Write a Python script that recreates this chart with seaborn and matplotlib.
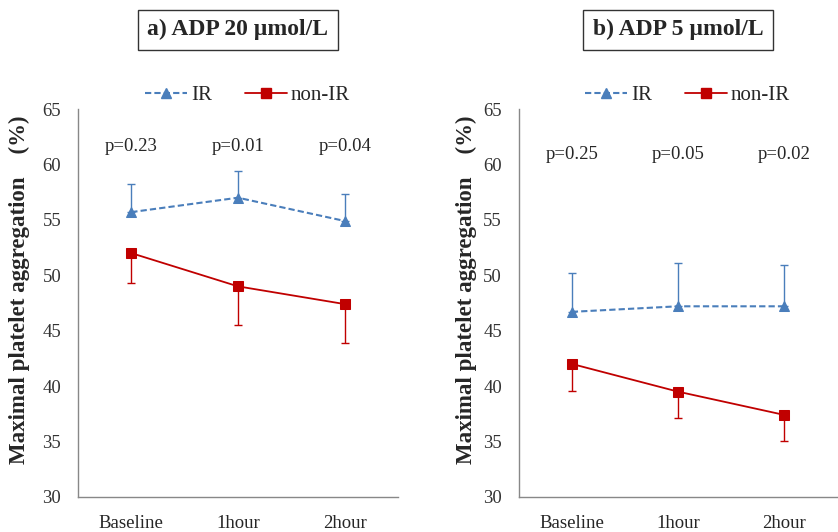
import matplotlib
matplotlib.use("Agg")
import matplotlib.pyplot as plt
import seaborn as sns
import numpy as np
import pandas as pd
from matplotlib.lines import Line2D

# data
times = ["Baseline", "1hour", "2hour"]

ir_20 = [55.7, 57.0, 54.9]
ir_20_err = [2.5, 2.4, 2.4]
nonir_20 = [52.0, 49.0, 47.4]
nonir_20_err = [2.7, 3.5, 3.5]
p_20 = ["p=0.23", "p=0.01", "p=0.04"]

ir_5 = [46.7, 47.2, 47.2]
ir_5_err = [3.5, 3.9, 3.7]
nonir_5 = [42.0, 39.5, 37.4]
nonir_5_err = [2.4, 2.4, 2.4]
p_5 = ["p=0.25", "p=0.05", "p=0.02"]

titles = ["a) ADP 20 µmol/L", "b) ADP 5 µmol/L"]

BLUE = "#4a7ebb"
RED = "#c00000"

sns.set_style("white")
plt.rcParams["font.family"] = ["Liberation Serif", "DejaVu Serif"]

fig = plt.figure(figsize=(8.38, 5.32), dpi=100)
ax1 = fig.add_axes([0.093, 0.066, 0.382, 0.729])
ax2 = fig.add_axes([0.619, 0.066, 0.380, 0.729])

panels = [
    (ax1, ir_20, ir_20_err, nonir_20, nonir_20_err, p_20, 61.6),
    (ax2, ir_5, ir_5_err, nonir_5, nonir_5_err, p_5, 60.9),
]

for i, (ax, ir, ir_e, non, non_e, pv, py) in enumerate(panels):
    x = np.arange(len(times))
    df = pd.DataFrame({
        "x": np.concatenate([x, x]),
        "val": ir + non,
        "grp": ["IR"] * 3 + ["non-IR"] * 3,
    })
    # one-sided error bars
    ax.errorbar(x, ir, yerr=[np.zeros(3), ir_e], fmt="none", ecolor=BLUE,
                elinewidth=1, capsize=3, capthick=1, zorder=1)
    ax.errorbar(x, non, yerr=[non_e, np.zeros(3)], fmt="none", ecolor=RED,
                elinewidth=1, capsize=3, capthick=1, zorder=1)
    sns.lineplot(data=df[df.grp == "IR"], x="x", y="val", ax=ax, color=BLUE,
                 linestyle=(0, (3, 1.5)), linewidth=1.5, marker="^",
                 markersize=7.5, markeredgecolor=BLUE, legend=False, zorder=3)
    sns.lineplot(data=df[df.grp == "non-IR"], x="x", y="val", ax=ax, color=RED,
                 linewidth=1.3, marker="s", markersize=7.5,
                 markeredgecolor=RED, legend=False, zorder=3)

    for xi, t in zip(x, pv):
        ax.text(xi, py, t, ha="center", va="center", fontsize=13.5)

    ax.set_xlim(-0.5, 2.5)
    ax.set_ylim(30, 65)
    ax.set_yticks(range(30, 66, 5))
    ax.set_xticks(x)
    ax.set_xticklabels(times, fontsize=13.5)
    ax.set_xticks([-0.5, 0.5, 1.5, 2.5], minor=True)
    ax.tick_params(axis="x", which="major", length=0, pad=13)
    ax.tick_params(axis="x", which="minor", length=5, color="#888888")
    ax.tick_params(axis="y", length=5, color="#888888", labelsize=13.5,
                   labelcolor="#333333", pad=7)
    ax.set_xlabel("")
    ax.set_ylabel("Maximal platelet aggregation    (%)", fontsize=16.5,
                  fontweight="bold")
    ax.yaxis.set_label_coords(-0.15 if i == 0 else -0.132, 0.533)
    for s in ["top", "right"]:
        ax.spines[s].set_visible(False)
    for s in ["left", "bottom"]:
        ax.spines[s].set_color("#888888")
        ax.spines[s].set_linewidth(1)

    handles = [
        Line2D([], [], color=BLUE, linestyle=(0, (3, 1.5)), marker="^",
               markersize=7.5, linewidth=1.5),
        Line2D([], [], color=RED, marker="s", markersize=7.5, linewidth=1.3),
    ]
    ax.legend(handles, ["IR", "non-IR"], loc="lower center",
              bbox_to_anchor=(0.53, 0.962), ncol=2, frameon=False, fontsize=15,
              handlelength=2.0, handletextpad=0.2, columnspacing=1.6)

    ax.set_title(titles[i], fontsize=17, fontweight="bold", pad=53,
                 bbox=dict(boxstyle="square,pad=0.4", facecolor="white",
                           edgecolor="#333333", linewidth=1))

fig.savefig("out.png", dpi=100)
